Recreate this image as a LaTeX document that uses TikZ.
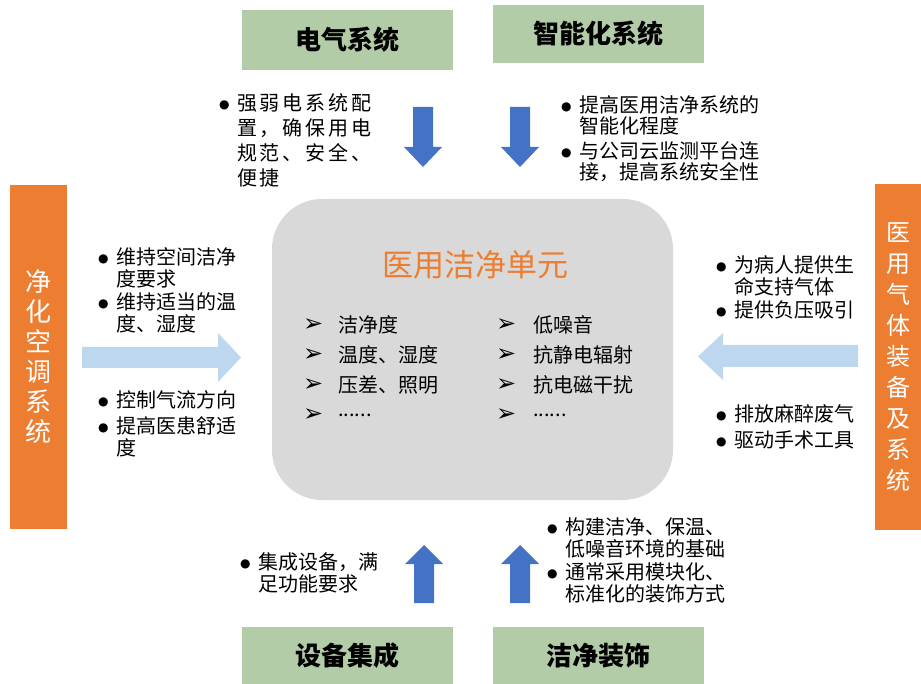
\documentclass[tikz,border=0pt]{standalone}
\usepackage{fontspec}
\setmainfont{Noto Sans CJK SC}
\newfontfamily\symfont{DejaVu Sans}
\definecolor{boxgreen}{RGB}{179,204,168}
\definecolor{boxorange}{RGB}{237,125,49}
\definecolor{arrowblue}{RGB}{68,114,196}
\definecolor{lightblue}{RGB}{189,215,238}
\definecolor{unitgray}{RGB}{217,217,217}
\newcommand{\bitem}[1]{\par\noindent\makebox[18pt][l]{\raisebox{2pt}{\fontsize{12}{12}\selectfont\symfont ●}}\parbox[t]{200pt}{#1}\par}
\newcommand{\sixdots}{......}

\begin{document}
\begin{tikzpicture}[x=1pt, y=-1pt,
    titlebox/.style={fill=boxgreen, minimum width=211pt, minimum height=58pt,
        font=\fontsize{26}{30}\selectfont\bfseries},
    sidebox/.style={fill=boxorange, text=white, align=center, inner sep=0pt},
    notes/.style={anchor=north west, inner sep=0pt, text width=220pt,
        font=\fontsize{20}{22}\selectfont\setlength{\parskip}{4pt}},
    pointer/.style={anchor=west, inner sep=0pt, font=\fontsize{20}{24}\selectfont}]
    \useasboundingbox (0,0) rectangle (921,684);

    % outer systems
    \node[titlebox, minimum height=60pt] (elec) at (347,40) {电气系统};
    \node[titlebox] (smart) at (598.5,34) {智能化系统};
    \node[titlebox, minimum height=57pt] (device) at (347.5,655.5) {设备集成};
    \node[titlebox, minimum height=57pt] (deco) at (598,655.5) {洁净装饰};
    \node[sidebox, minimum width=57pt, minimum height=344pt,
        font=\fontsize{26}{30}\selectfont] (hvac) at (38.5,357) {净\\化\\空\\调\\系\\统};
    \node[sidebox, minimum width=46pt, minimum height=346pt,
        font=\fontsize{24}{31}\selectfont] (gas) at (898,357) {医\\用\\气\\体\\装\\备\\及\\系\\统};

    % clean unit
    \node[fill=unitgray, rounded corners=50pt, minimum width=401pt, minimum height=301pt] (unit) at (472.5,349.5) {};
    \node[text=boxorange, font=\fontsize{31}{34}\selectfont] (unittitle) at (475,265) {医用洁净单元};
    \foreach \t [count=\i] in {洁净度, 温度、湿度, 压差、照明, \sixdots} {
        \node[pointer, font=\fontsize{24}{24}\selectfont\symfont] (lmark\i) at (303,295+30*\i) {➢};
        \node[pointer] (left\i) at (338,295+30*\i) {\t};
    }
    \foreach \t [count=\i] in {低噪音, 抗静电辐射, 抗电磁干扰, \sixdots} {
        \node[pointer, font=\fontsize{24}{24}\selectfont\symfont] (rmark\i) at (496,295+30*\i) {➢};
        \node[pointer] (right\i) at (533,295+30*\i) {\t};
    }

    % arrows
    \foreach \x in {423,520} {
        \fill[arrowblue] (\x-10,107) -- (\x+10,107) -- (\x+10,147) -- (\x+19,147)
            -- (\x,167) -- (\x-19,147) -- (\x-10,147) -- cycle;
    }
    \foreach \x in {424,520} {
        \fill[arrowblue] (\x-10,603) -- (\x+10,603) -- (\x+10,564) -- (\x+19,564)
            -- (\x,545) -- (\x-19,564) -- (\x-10,564) -- cycle;
    }
    \fill[lightblue] (82,347) -- (218,347) -- (218,333) -- (241,357.5) -- (218,382)
        -- (218,368) -- (82,368) -- cycle;
    \fill[lightblue] (858,345) -- (723,345) -- (723,333) -- (698,356.5) -- (723,380)
        -- (723,367) -- (858,367) -- cycle;

    % notes
    \node[notes, font=\fontsize{20}{25}\selectfont\addfontfeature{LetterSpace=14}] (elecnote) at (219,85)
        {\bitem{强弱电系统配\\置，确保用电\\规范、安全、\\便捷}};
    \node[notes, font=\fontsize{20}{21}\selectfont\setlength{\parskip}{6pt}] (smartnote) at (561,85)
        {\bitem{提高医用洁净系统的\\智能化程度}
         \bitem{与公司云监测平台连\\接，提高系统安全性}};
    \node[notes] (hvacnote) at (98,238)
        {\bitem{维持空间洁净\\度要求}
         \bitem{维持适当的温\\度、湿度}};
    \node[notes] (hvacnote2) at (98,381)
        {\bitem{控制气流方向}
         \bitem{提高医患舒适\\度}};
    \node[notes] (gasnote) at (716,246)
        {\bitem{为病人提供生\\命支持气体}
         \bitem{提供负压吸引}};
    \node[notes] (gasnote2) at (716,395)
        {\bitem{排放麻醉废气}
         \bitem{驱动手术工具}};
    \node[notes] (devicenote) at (240,543)
        {\bitem{集成设备，满\\足功能要求}};
    \node[notes] (deconote) at (547,508)
        {\bitem{构建洁净、保温、\\低噪音环境的基础}
         \bitem{通常采用模块化、\\标准化的装饰方式}};
\end{tikzpicture}
\end{document}
